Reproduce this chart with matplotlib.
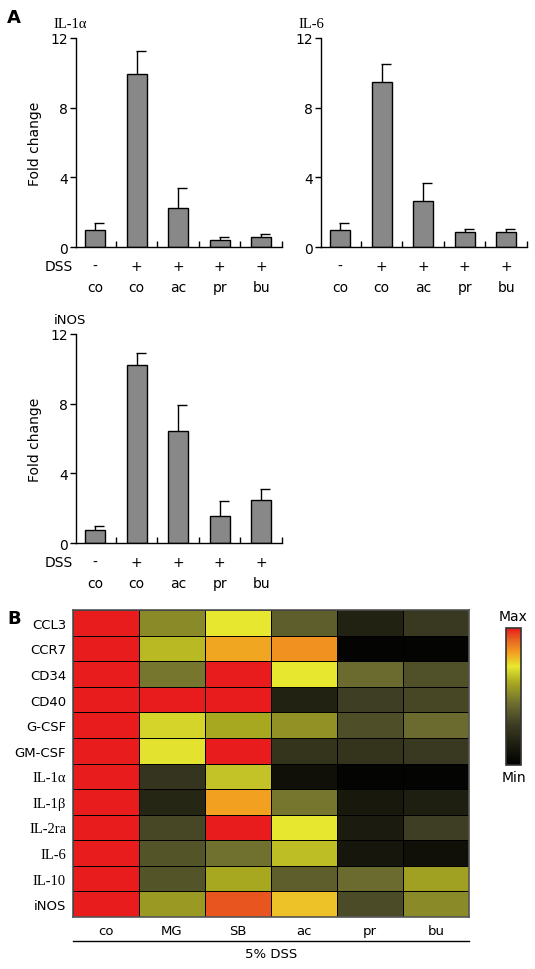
import matplotlib.pyplot as plt
import numpy as np
from matplotlib.colors import LinearSegmentedColormap

# --- panel A data ---
groups = ["co", "co", "ac", "pr", "bu"]
dss = ["-", "+", "+", "+", "+"]

il1a_mean = [0.98, 9.92, 2.22, 0.40, 0.57]
il1a_err = [0.40, 1.32, 1.15, 0.16, 0.16]
il6_mean = [0.98, 9.46, 2.64, 0.84, 0.84]
il6_err = [0.40, 1.04, 1.04, 0.19, 0.19]
inos_mean = [0.76, 10.2, 6.42, 1.55, 2.47]
inos_err = [0.19, 0.70, 1.49, 0.86, 0.63]

# --- panel B data (relative expression, 0 = min, 1 = max) ---
genes = ["CCL3", "CCR7", "CD34", "CD40", "G-CSF", "GM-CSF",
         "IL-1\u03b1", "IL-1\u03b2", "IL-2ra", "IL-6", "IL-10", "iNOS"]
treatments = ["co", "MG", "SB", "ac", "pr", "bu"]
heat = np.array([
    [1.0, 0.52, 0.72, 0.40, 0.17, 0.28],
    [1.0, 0.63, 0.81, 0.84, 0.02, 0.02],
    [1.0, 0.47, 1.0, 0.72, 0.44, 0.36],
    [1.0, 1.0, 1.0, 0.17, 0.30, 0.33],
    [1.0, 0.68, 0.60, 0.54, 0.35, 0.44],
    [1.0, 0.71, 1.0, 0.25, 0.25, 0.28],
    [1.0, 0.26, 0.65, 0.08, 0.02, 0.02],
    [1.0, 0.19, 0.82, 0.47, 0.12, 0.16],
    [1.0, 0.33, 1.0, 0.72, 0.14, 0.30],
    [1.0, 0.37, 0.46, 0.64, 0.11, 0.08],
    [1.0, 0.37, 0.60, 0.40, 0.44, 0.58],
    [1.0, 0.56, 0.93, 0.77, 0.34, 0.52],
])

cmap = LinearSegmentedColormap.from_list("minmax", [
    (0.00, "#000000"), (0.15, "#1e1e10"), (0.30, "#3e3e24"),
    (0.45, "#6e6e30"), (0.60, "#a8a820"), (0.72, "#e8e830"),
    (0.82, "#f2a020"), (0.92, "#e86020"), (1.00, "#e81c1c"),
])

plt.rcParams["font.family"] = ["DejaVu Sans"]
fig = plt.figure(figsize=(5.35, 9.7), dpi=100)
W, H = 535, 970


def px_axes(x0, y0, x1, y1):
    return fig.add_axes([x0 / W, 1 - y1 / H, (x1 - x0) / W, (y1 - y0) / H])


def bar_panel(ax, title, means, errs, ylabel=True, serif=False):
    x = np.arange(len(means))
    ax.bar(x, means, width=0.48, color="#888888", edgecolor="black", linewidth=1)
    tops = np.array(means) + np.array(errs)
    ax.vlines(x, means, tops, color="black", linewidth=1)
    ax.hlines(tops, x - 0.02, x + 0.22, color="black", linewidth=1)
    ax.set_xlim(-0.46, 4.5)
    ax.set_ylim(0, 12)
    ax.set_yticks([0, 4, 8, 12])
    ax.set_xticks([0.5, 1.5, 2.5, 3.5, 4.5])
    ax.set_xticklabels([])
    ax.tick_params(axis="x", direction="in", length=4, width=1)
    ax.tick_params(axis="y", direction="out", length=4, width=1, labelsize=10, pad=2)
    for s in ["top", "right"]:
        ax.spines[s].set_visible(False)
    ax.spines["left"].set_linewidth(1)
    ax.spines["bottom"].set_linewidth(1)
    if ylabel:
        ax.set_ylabel("Fold change", fontsize=10, labelpad=6)
    fam = "Liberation Serif" if serif else "DejaVu Sans"
    ax.text(-0.107, 1.07, title, transform=ax.transAxes, fontsize=10.5 if serif else 9.5,
            family=fam, ha="left", va="center")
    for i in x:
        ax.text(i, -1.1, dss[i], ha="center", va="center", fontsize=10)
        ax.text(i, -2.3, groups[i], ha="center", va="center", fontsize=10)


ax1 = px_axes(76, 39, 282, 248)
bar_panel(ax1, "IL-1\u03b1", il1a_mean, il1a_err, serif=True)
ax1.text(-0.015, -1.1, "DSS", ha="right", va="center", fontsize=10,
         transform=ax1.get_yaxis_transform())

ax2 = px_axes(321, 39, 527, 248)
bar_panel(ax2, "IL-6", il6_mean, il6_err, ylabel=False, serif=True)

ax3 = px_axes(76, 335, 282, 544)
bar_panel(ax3, "iNOS", inos_mean, inos_err)
ax3.text(-0.015, -1.1, "DSS", ha="right", va="center", fontsize=10,
         transform=ax3.get_yaxis_transform())

fig.text(7 / W, 1 - 18 / H, "A", fontsize=13, fontweight="bold", va="center")
fig.text(7 / W, 1 - 619 / H, "B", fontsize=13, fontweight="bold", va="center")

# --- heatmap ---
axh = px_axes(73, 611, 469, 918)
mesh = axh.pcolormesh(heat, cmap=cmap, vmin=0, vmax=1, edgecolors="black", linewidth=0.6)
axh.set_xlim(0, len(treatments))
axh.set_ylim(len(genes), 0)
axh.set_xticks(np.arange(len(treatments)) + 0.5)
axh.set_xticklabels(treatments, fontsize=9.5)
axh.set_yticks(np.arange(len(genes)) + 0.5)
labels = axh.set_yticklabels(genes, fontsize=9.5)
for lab in labels:
    if lab.get_text().startswith("IL"):
        lab.set_family("Liberation Serif")
        lab.set_fontsize(10.5)
axh.tick_params(length=0, pad=5)
for s in axh.spines.values():
    s.set_color("#555555")
    s.set_linewidth(1.2)
axh.plot([0, 1], [-0.078, -0.078], color="black", linewidth=1,
         transform=axh.transAxes, clip_on=False)
axh.text(0.5, -0.12, "5% DSS", transform=axh.transAxes, ha="center", va="center", fontsize=9.5)

cax = px_axes(506, 629, 521, 766)
cb = fig.colorbar(mesh, cax=cax)
cb.set_ticks([])
cb.outline.set_linewidth(1.2)
cb.outline.set_edgecolor("#333333")
cax.text(0.5, 1.04, "Max", transform=cax.transAxes, ha="center", va="bottom", fontsize=10)
cax.text(0.5, -0.04, "Min", transform=cax.transAxes, ha="center", va="top", fontsize=10)

fig.savefig("out.png", dpi=100)
